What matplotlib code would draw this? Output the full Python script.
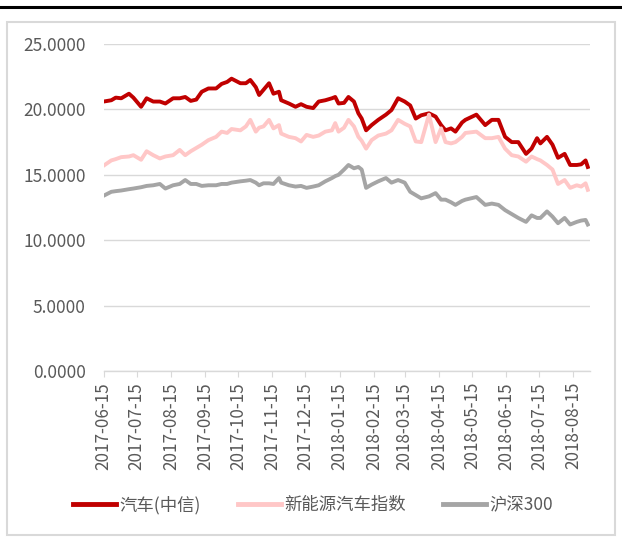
import pandas as pd
import matplotlib
matplotlib.use("Agg")
from matplotlib import pyplot as plt
from matplotlib.patches import Rectangle
from matplotlib.lines import Line2D

plt.rcParams['font.family'] = ['Noto Sans CJK SC', 'DejaVu Sans']

dates = ['2017-06-15', '2017-06-22', '2017-06-26', '2017-07-01', '2017-07-08', '2017-07-12',
         '2017-07-19', '2017-07-24', '2017-07-30', '2017-08-05', '2017-08-10', '2017-08-17',
         '2017-08-23', '2017-08-28', '2017-09-02', '2017-09-07', '2017-09-12', '2017-09-18',
         '2017-09-25', '2017-09-30', '2017-10-05', '2017-10-09', '2017-10-17', '2017-10-22',
         '2017-10-26', '2017-10-31', '2017-11-03', '2017-11-07', '2017-11-12', '2017-11-16',
         '2017-11-21', '2017-11-23', '2017-11-30', '2017-12-06', '2017-12-11', '2017-12-16',
         '2017-12-22', '2017-12-27', '2018-01-02', '2018-01-08', '2018-01-11', '2018-01-14',
         '2018-01-19', '2018-01-23', '2018-01-28', '2018-02-01', '2018-02-04', '2018-02-08',
         '2018-02-13', '2018-02-19', '2018-02-26', '2018-03-03', '2018-03-09', '2018-03-15',
         '2018-03-20', '2018-03-25', '2018-03-30', '2018-04-06', '2018-04-12', '2018-04-17',
         '2018-04-21', '2018-04-26', '2018-04-30', '2018-05-06', '2018-05-09', '2018-05-14',
         '2018-05-19', '2018-05-27', '2018-06-02', '2018-06-08', '2018-06-14', '2018-06-20',
         '2018-06-26', '2018-07-03', '2018-07-08', '2018-07-13', '2018-07-16', '2018-07-22',
         '2018-07-27', '2018-08-01', '2018-08-07', '2018-08-12', '2018-08-18', '2018-08-22',
         '2018-08-26', '2018-08-28']

auto_citic = [20.6, 20.7, 20.9, 20.85, 21.2, 20.9, 20.2, 20.85, 20.6, 20.6, 20.45, 20.85,
              20.85, 20.95, 20.65, 20.75, 21.35, 21.6, 21.6, 21.95, 22.1, 22.35, 22.0, 22.0,
              22.25, 21.7, 21.1, 21.5, 22.0, 21.2, 21.35, 20.7, 20.45, 20.2, 20.4, 20.2,
              20.1, 20.6, 20.7, 20.85, 20.95, 20.45, 20.5, 20.95, 20.6, 19.7, 19.3, 18.4,
              18.8, 19.2, 19.6, 19.95, 20.85, 20.6, 20.3, 19.3, 19.55, 19.7, 19.45, 18.8,
              18.4, 18.55, 18.3, 19.0, 19.2, 19.4, 19.6, 18.8, 19.2, 19.2, 17.9, 17.5,
              17.5, 16.6, 17.0, 17.8, 17.4, 17.9, 17.3, 16.3, 16.6, 15.75, 15.75, 15.8,
              16.1, 15.6]

nev_index = [15.7, 16.1, 16.2, 16.35, 16.4, 16.5, 16.15, 16.8, 16.5, 16.25, 16.4, 16.5,
             16.9, 16.5, 16.8, 17.05, 17.3, 17.65, 17.9, 18.3, 18.2, 18.5, 18.4, 18.7,
             19.2, 18.3, 18.6, 18.7, 19.2, 18.55, 18.8, 18.15, 17.9, 17.8, 17.55, 18.05,
             17.9, 18.0, 18.3, 18.4, 18.95, 18.3, 18.6, 19.2, 18.7, 17.9, 17.6, 17.0,
             17.65, 18.0, 18.15, 18.4, 19.2, 18.9, 18.7, 17.55, 17.5, 19.6, 17.5, 18.55,
             17.5, 17.4, 17.5, 17.9, 18.2, 18.25, 18.3, 17.8, 17.8, 17.9, 17.0, 16.5,
             16.4, 16.0, 16.4, 16.2, 16.1, 15.75, 15.4, 14.3, 14.6, 14.0, 14.2, 14.1,
             14.35, 13.85]

hs300 = [13.4, 13.7, 13.75, 13.8, 13.9, 13.95, 14.05, 14.15, 14.2, 14.3, 13.95, 14.2,
         14.3, 14.6, 14.3, 14.3, 14.15, 14.2, 14.2, 14.3, 14.3, 14.4, 14.5, 14.55,
         14.6, 14.4, 14.2, 14.35, 14.35, 14.3, 14.75, 14.4, 14.2, 14.1, 14.15, 14.0,
         14.1, 14.2, 14.5, 14.75, 14.9, 15.0, 15.4, 15.75, 15.5, 15.6, 15.4, 14.0,
         14.25, 14.5, 14.75, 14.4, 14.6, 14.4, 13.7, 13.45, 13.2, 13.35, 13.6, 13.1,
         13.1, 12.9, 12.7, 13.0, 13.1, 13.2, 13.3, 12.7, 12.8, 12.7, 12.3, 12.0,
         11.7, 11.4, 11.9, 11.7, 11.7, 12.2, 11.8, 11.3, 11.7, 11.2, 11.4, 11.5,
         11.55, 11.2]

tick_labels = ['2017-06-15', '2017-07-15', '2017-08-15', '2017-09-15', '2017-10-15',
               '2017-11-15', '2017-12-15', '2018-01-15', '2018-02-15', '2018-03-15',
               '2018-04-15', '2018-05-15', '2018-06-15', '2018-07-15', '2018-08-15']

names = ['汽车(中信)', '新能源汽车指数', '沪深300']
colors = ['#C00000', '#FFC7C7', '#A5A5A5']

x = pd.to_datetime(dates)
W, H = 622, 545
fig = plt.figure(figsize=(W / 100, H / 100), dpi=100)
ax = fig.add_axes([103.6 / W, 1 - 371 / H, (590 - 103.6) / W, (371 - 44) / H])

for vals, name, c in zip([auto_citic, nev_index, hs300], names, colors):
    ax.plot(x, vals, color=c, lw=2.8, label=name, solid_joinstyle='round')

ax.set_ylim(0, 25)
ax.set_yticks([0, 5, 10, 15, 20, 25])
ax.yaxis.set_major_formatter(plt.FuncFormatter(lambda v, p: '%.4f' % v))
ax.set_xlim(pd.Timestamp('2017-06-15'), pd.Timestamp('2018-08-30'))
ax.set_xticks(pd.to_datetime(tick_labels))
ax.set_xticklabels(tick_labels, rotation=90)

for s in ['top', 'right', 'left']:
    ax.spines[s].set_visible(False)
ax.spines['bottom'].set_color('#D9D9D9')
ax.spines['bottom'].set_linewidth(1.0)
ax.grid(axis='y', color='#D9D9D9', lw=1.0)
ax.set_axisbelow(True)
ax.tick_params(axis='y', length=0, pad=13, labelsize=12.5, labelcolor='#595959')
ax.tick_params(axis='x', length=4, color='#D9D9D9', pad=4, labelsize=12.3, labelcolor='#595959')

leg = fig.legend(loc='center', bbox_to_anchor=(313 / W, 1 - 505 / H), ncol=3, frameon=False,
                 fontsize=12.5, handlelength=2.5, handletextpad=0.2, columnspacing=2.1)
for t in leg.get_texts():
    t.set_color('#595959')
for h in leg.legend_handles:
    h.set_linewidth(3.5)

fig.patches.append(Rectangle((7 / W, 1 - 535 / H), (615 - 7) / W, (535 - 22) / H,
                             transform=fig.transFigure, fill=False, edgecolor='#D9D9D9', lw=1.5))
fig.lines.append(Line2D([0, 1], [1 - 7 / H, 1 - 7 / H], transform=fig.transFigure,
                        color='black', lw=2.2))

fig.savefig('out.png', dpi=100)
